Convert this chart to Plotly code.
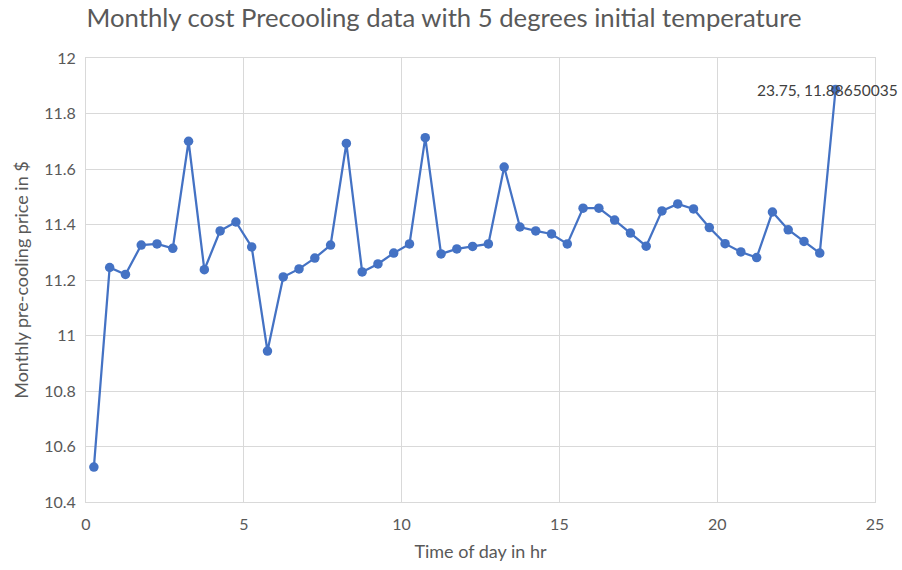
import plotly.graph_objects as go

hours = [0.25 + 0.5 * i for i in range(48)]
price = [10.526, 11.245, 11.220, 11.326, 11.330, 11.314, 11.700, 11.237,
         11.377, 11.409, 11.319, 10.944, 11.211, 11.240, 11.279, 11.326,
         11.692, 11.229, 11.258, 11.297, 11.330, 11.713, 11.294, 11.312,
         11.321, 11.330, 11.607, 11.391, 11.377, 11.366, 11.330, 11.459,
         11.459, 11.416, 11.369, 11.322, 11.449, 11.474, 11.456, 11.389,
         11.331, 11.301, 11.281, 11.445, 11.381, 11.339, 11.297, 11.88650035]

title_text = "Monthly cost Precooling data with 5 degrees initial temperature"
x_title = "Time of day in hr"
y_title = "Monthly pre-cooling price in $"

FONT = "Lato, Open Sans, Liberation Sans, sans-serif"
GREY = "#595959"
GRID = "#d9d9d9"
BLUE = "#4472C4"

fig = go.Figure()
fig.add_trace(go.Scatter(
    x=hours, y=price, mode="lines+markers",
    line=dict(color=BLUE, width=2.25),
    marker=dict(color=BLUE, size=9.5),
    showlegend=False, hoverinfo="x+y"))

fig.add_annotation(
    x=hours[-1], y=price[-1], xref="x", yref="y",
    text=f"{hours[-1]}, {price[-1]:.8f}",
    showarrow=False, xanchor="center", yanchor="middle", xshift=-8,
    font=dict(family=FONT, size=15.5, color="#404040"))

fig.update_layout(
    width=902, height=570,
    margin=dict(l=86, r=27, t=58, b=68),
    paper_bgcolor="white", plot_bgcolor="white",
    font=dict(family=FONT, color=GREY, size=16),
    title=dict(text=title_text, x=0.096, xanchor="left", y=0.968, yanchor="middle",
               font=dict(family=FONT, size=25.7, color=GREY)),
    xaxis=dict(range=[0, 25], dtick=5, tick0=0, showgrid=True, gridcolor=GRID,
               gridwidth=1, zeroline=False, showline=True, linecolor=GRID,
               mirror=True, ticks="", tickfont=dict(size=16, color=GREY),
               ticklabelstandoff=8,
               title=dict(text=x_title, font=dict(size=18, color=GREY), standoff=13)),
    yaxis=dict(range=[10.4, 12], dtick=0.2, tick0=10.4, showgrid=True, gridcolor=GRID,
               gridwidth=1, zeroline=False, showline=True, linecolor=GRID,
               mirror=True, ticks="", tickfont=dict(size=16, color=GREY),
               tickformat="~r", ticklabelstandoff=6,
               title=dict(text=y_title, font=dict(size=18, color=GREY), standoff=10)),
)

fig.write_html("out.html")
